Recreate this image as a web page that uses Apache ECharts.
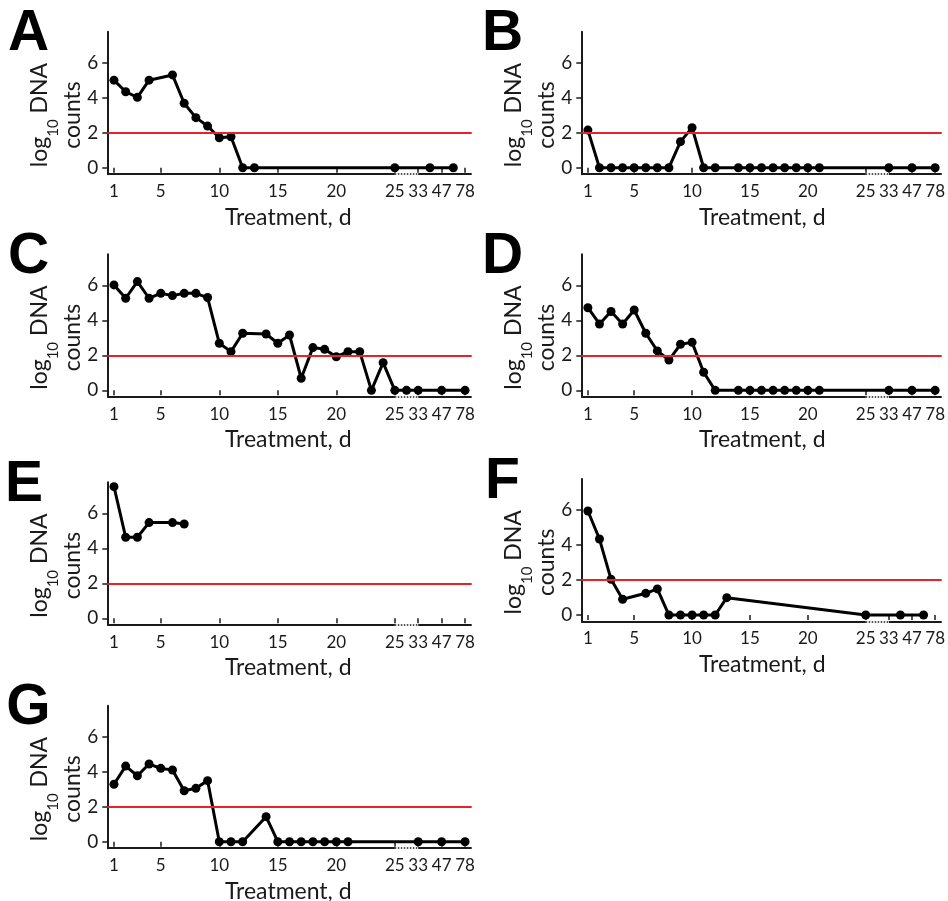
<!DOCTYPE html>
<html>
<head>
<meta charset="utf-8">
<script src="https://cdn.jsdelivr.net/npm/echarts@6/dist/echarts.min.js"></script>
<style>
  html, body { margin: 0; padding: 0; background: #fff; }
  #chart { width: 948px; height: 901px; }
</style>
</head>
<body>
<div id="chart"></div>
<script>
// x axis is broken after day 25: positions 27, 29, 31 stand for days 33, 47, 78
const tickPos    = [1, 5, 10, 15, 20, 25, 27, 29, 31]
const tickLabels = ['1', '5', '10', '15', '20', '25', '33', '47', '78']
const yTicks     = [0, 2, 4, 6]
const threshold  = 2

// ===== panel data (x = axis position, y = log10 DNA counts) =====
const dayA = [1, 2, 3, 4, 6, 7, 8, 9, 10, 11, 12, 13, 25, 28, 30]
const valA = [5.0, 4.34, 4.02, 5.0, 5.3, 3.68, 2.86, 2.38, 1.71, 1.77, 0, 0, 0, 0, 0]

const dayB = [1, 2, 3, 4, 5, 6, 7, 8, 9, 10, 11, 12, 14, 15, 16, 17, 18, 19, 20, 21, 27, 29, 31]
const valB = [2.15, 0, 0, 0, 0, 0, 0, 0, 1.49, 2.29, 0, 0, 0, 0, 0, 0, 0, 0, 0, 0, 0, 0, 0]

const dayC = [1, 2, 3, 4, 5, 6, 7, 8, 9, 10, 11, 12, 14, 15, 16, 17, 18, 19, 20, 21, 22, 23, 24, 25, 26, 27, 29, 31]
const valC = [6.02, 5.26, 6.21, 5.26, 5.54, 5.41, 5.54, 5.54, 5.30, 2.69, 2.21, 3.26, 3.22, 2.69, 3.16, 0.69,
              2.44, 2.34, 1.92, 2.21, 2.21, 0, 1.58, 0, 0, 0, 0, 0]

const dayD = [1, 2, 3, 4, 5, 6, 7, 8, 9, 10, 11, 12, 14, 15, 16, 17, 18, 19, 20, 21, 27, 29, 31]
const valD = [4.72, 3.79, 4.50, 3.79, 4.59, 3.26, 2.25, 1.73, 2.63, 2.74, 1.03, 0, 0, 0, 0, 0, 0, 0, 0, 0, 0, 0, 0]

const dayE = [1, 2, 3, 4, 6, 7]
const valE = [7.52, 4.63, 4.63, 5.47, 5.47, 5.39]

const dayF = [1, 2, 3, 4, 6, 7, 8, 9, 10, 11, 12, 13, 25, 28, 30]
const valF = [5.94, 4.34, 2.04, 0.90, 1.24, 1.49, 0, 0, 0, 0, 0, 0.99, 0, 0, 0]

const dayG = [1, 2, 3, 4, 5, 6, 7, 8, 9, 10, 11, 12, 14, 15, 16, 17, 18, 19, 20, 21, 27, 29, 31]
const valG = [3.28, 4.32, 3.77, 4.44, 4.19, 4.10, 2.91, 3.05, 3.49, 0, 0, 0, 1.43, 0, 0, 0, 0, 0, 0, 0, 0, 0, 0]

// ===== layout =====
const X_MIN = 0.43, X_MAX = 31.57
const Y_MIN = -0.37, Y_MAX = 7.77
const GW = 364.4, GH = 142.5
const FONT = 'Lato, "Open Sans", sans-serif'
const INK = '#1a1a1a'

const panels = [
  { letter: 'A', days: dayA, vals: valA, left: 107.3, top: 31.7 },
  { letter: 'B', days: dayB, vals: valB, left: 581.3, top: 31.7 },
  { letter: 'C', days: dayC, vals: valC, left: 107.3, top: 254.3 },
  { letter: 'D', days: dayD, vals: valD, left: 581.3, top: 254.3 },
  { letter: 'E', days: dayE, vals: valE, left: 107.3, top: 482.3 },
  { letter: 'F', days: dayF, vals: valF, left: 581.3, top: 479 },
  { letter: 'G', days: dayG, vals: valG, left: 107.3, top: 705.7 }
]

// measure text so the rotated "log10 DNA" pieces line up
const ctx = document.createElement('canvas').getContext('2d')
const textW = (s, font) => { ctx.font = font; return ctx.measureText(s).width }
const mainFont = '23px ' + FONT
const subFont  = '15px ' + FONT
const w1 = textW('log', mainFont), w2 = textW('10', subFont), w3 = textW(' DNA', mainFont)
const wAll = w1 + w2 + w3

const grid = [], xAxis = [], yAxis = [], series = [], graphic = []

const rotText = (text, font, x, y, align) => ({
  type: 'text', x, y, rotation: Math.PI / 2,
  style: { text, font, fill: INK, textAlign: align, textVerticalAlign: 'middle' }
})

panels.forEach((p, i) => {
  grid.push({ left: p.left, top: p.top, width: GW, height: GH })

  xAxis.push({
    type: 'value', gridIndex: i, min: X_MIN, max: X_MAX,
    splitLine: { show: false },
    axisLine: { show: false },
    axisTick: { show: true, customValues: tickPos, length: 5, lineStyle: { color: INK, width: 1.5 } },
    axisLabel: {
      customValues: tickPos,
      formatter: v => tickLabels[tickPos.indexOf(v)],
      color: INK, fontSize: 17, fontFamily: FONT, margin: 9
    }
  })

  yAxis.push({
    type: 'value', gridIndex: i, min: Y_MIN, max: Y_MAX,
    splitLine: { show: false },
    axisLine: { show: true, lineStyle: { color: INK, width: 2 } },
    axisTick: { show: true, customValues: yTicks, length: 5, lineStyle: { color: INK, width: 1.5 } },
    axisLabel: {
      customValues: yTicks,
      color: INK, fontSize: 19, fontFamily: FONT, margin: 9
    }
  })

  // threshold line + broken x axis line
  series.push({
    type: 'line', xAxisIndex: i, yAxisIndex: i, data: [], z: 1,
    markLine: {
      silent: true, symbol: 'none', label: { show: false }, animation: false,
      data: [
        { yAxis: threshold, lineStyle: { color: '#e8212a', width: 2, type: 'solid' } },
        [{ coord: [X_MIN, Y_MIN], lineStyle: { color: INK, width: 2, type: 'solid' } }, { coord: [25, Y_MIN] }],
        [{ coord: [25, Y_MIN], lineStyle: { color: INK, width: 1.5, type: 'dotted' } }, { coord: [27, Y_MIN] }],
        [{ coord: [27, Y_MIN], lineStyle: { color: INK, width: 2, type: 'solid' } }, { coord: [X_MAX, Y_MIN] }]
      ]
    }
  })

  series.push({
    type: 'line', xAxisIndex: i, yAxisIndex: i, z: 3,
    data: p.days.map((d, k) => [d, p.vals[k]]),
    symbol: 'circle', symbolSize: 9,
    lineStyle: { color: '#000', width: 3 },
    itemStyle: { color: '#000' }
  })

  const dx = p.left - 107.3
  // panel letter
  graphic.push({
    type: 'text', x: (p.letter === 'E' ? 24 : 28.5) + dx, y: p.top + 3,
    style: { text: p.letter, font: 'bold 57px "Liberation Sans", Arial, sans-serif', fill: '#000',
             textAlign: 'center', textVerticalAlign: 'middle' }
  })
  // y axis title: "log10 DNA" read bottom to top, then "counts"
  const yc = p.top + 83.3
  const yStart = yc + wAll / 2
  graphic.push(rotText('log', mainFont, 40 + dx, yStart, 'left'))
  graphic.push(rotText('10', subFont, 53 + dx, yStart - w1, 'left'))
  graphic.push(rotText(' DNA', mainFont, 40 + dx, yStart - w1 - w2, 'left'))
  graphic.push(rotText('counts', mainFont, 73 + dx, yc, 'center'))
  // x axis title
  graphic.push({
    type: 'text', x: p.left + 181, y: p.top + GH + 43,
    style: { text: 'Treatment, d', font: mainFont, fill: INK, textAlign: 'center', textVerticalAlign: 'middle' }
  })
})

const chart = echarts.init(document.getElementById('chart'))
chart.setOption({
  animation: false,
  grid, xAxis, yAxis, series, graphic
})
</script>
</body>
</html>
